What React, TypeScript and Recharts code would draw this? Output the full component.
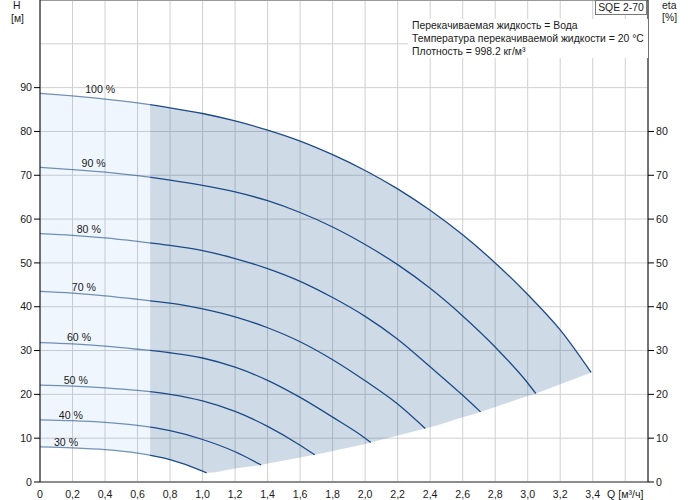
import React from 'react';
import {
    ComposedChart, Line, Area, XAxis, YAxis, CartesianGrid, ReferenceLine, ReferenceDot
} from 'recharts';

// pump curves at different speeds, Q [m3/h] vs H [m]
const q100 = [0, 0.2, 0.4, 0.6, 0.8, 1.0, 1.2, 1.4, 1.6, 1.8, 2.0, 2.2, 2.4, 2.6, 2.8, 3.0, 3.2, 3.39];
const h100 = [88.7, 88.1, 87.4, 86.5, 85.4, 84.1, 82.4, 80.3, 77.8, 74.7, 71.1, 66.9, 62.0, 56.4, 50.0, 42.8, 34.7, 25.0];
const q90 = [0, 0.2, 0.4, 0.6, 0.8, 1.0, 1.2, 1.4, 1.6, 1.8, 2.0, 2.2, 2.4, 2.6, 2.8, 3.0, 3.05];
const h90 = [71.8, 71.3, 70.7, 69.9, 68.9, 67.7, 66.2, 64.2, 61.5, 58.2, 54.2, 49.6, 44.2, 37.9, 30.8, 22.6, 20.2];
const q80 = [0, 0.2, 0.4, 0.6, 0.8, 1.0, 1.2, 1.4, 1.6, 1.8, 2.0, 2.2, 2.4, 2.6, 2.71];
const h80 = [56.7, 56.3, 55.7, 54.9, 54.0, 52.8, 51.0, 48.7, 45.8, 42.1, 37.8, 32.6, 26.3, 19.8, 16.0];
const q70 = [0, 0.2, 0.4, 0.6, 0.8, 1.0, 1.2, 1.4, 1.6, 1.8, 2.0, 2.2, 2.37];
const h70 = [43.5, 43.1, 42.5, 41.7, 40.8, 39.5, 37.7, 35.2, 32.0, 27.9, 23.1, 17.8, 12.2];
const q60 = [0, 0.2, 0.4, 0.6, 0.8, 1.0, 1.2, 1.4, 1.6, 1.8, 2.0, 2.035];
const h60 = [31.8, 31.5, 31.0, 30.3, 29.5, 28.3, 26.2, 23.2, 19.3, 14.8, 10.0, 9.0];
const q50 = [0, 0.2, 0.4, 0.6, 0.8, 1.0, 1.2, 1.4, 1.6, 1.69];
const h50 = [22.1, 21.9, 21.5, 20.9, 20.0, 18.5, 16.1, 12.7, 8.4, 6.2];
const q40 = [0, 0.2, 0.4, 0.6, 0.8, 1.0, 1.2, 1.36];
const h40 = [14.2, 14.0, 13.6, 12.9, 11.7, 9.7, 6.9, 3.9];
const q30 = [0, 0.2, 0.4, 0.6, 0.8, 1.0, 1.025];
const h30 = [8.0, 7.8, 7.4, 6.6, 5.1, 2.5, 2.1];

// light band (left of 0.678) and operating area (right of it)
const qLight = [0, 0.2, 0.4, 0.6, 0.678];
const loLight = [8.0, 7.8, 7.4, 6.6, 6.0];
const hiLight = [88.7, 88.1, 87.4, 86.5, 86.1];
const qDark = [0.678, 0.8, 1.0, 1.025, 1.2, 1.36, 1.4, 1.6, 1.69, 1.8, 2.0, 2.035, 2.2, 2.37, 2.4, 2.6, 2.71, 2.8, 3.0, 3.05, 3.2, 3.39];
const loDark = [6.0, 5.1, 2.5, 2.1, 3.1, 3.9, 4.2, 5.6, 6.2, 7.1, 8.7, 9.0, 10.6, 12.2, 12.5, 14.8, 16.0, 17.1, 19.6, 20.2, 22.3, 25.0];
const hiDark = [86.1, 85.4, 84.1, 83.9, 82.4, 80.7, 80.3, 77.8, 76.4, 74.7, 71.1, 70.4, 66.9, 62.8, 62.0, 56.4, 53.0, 50.0, 42.8, 40.8, 34.7, 25.0];

const speedLabels = ['100 %', '90 %', '80 %', '70 %', '60 %', '50 %', '40 %', '30 %'];
const labelQ = [0.37, 0.33, 0.30, 0.27, 0.24, 0.22, 0.19, 0.16];
const labelH = [89.7, 72.8, 57.7, 44.4, 33.0, 23.2, 15.3, 9.1];

const xTicks = [0, 0.2, 0.4, 0.6, 0.8, 1.0, 1.2, 1.4, 1.6, 1.8, 2.0, 2.2, 2.4, 2.6, 2.8, 3.0, 3.2, 3.4, 3.6];
const hTicks = [0, 10, 20, 30, 40, 50, 60, 70, 80, 90];
const etaTicks = [0, 10, 20, 30, 40, 50, 60, 70, 80];

const zip = (q: number[], h: number[]) => q.map((x, i) => ({ q: x, h: h[i] }));
const band = (q: number[], lo: number[], hi: number[]) => q.map((x, i) => ({ q: x, r: [lo[i], hi[i]] }));

const curves = [
    zip(q100, h100), zip(q90, h90), zip(q80, h80), zip(q70, h70),
    zip(q60, h60), zip(q50, h50), zip(q40, h40), zip(q30, h30),
];
const lightBand = band(qLight, loLight, hiLight);
const darkBand = band(qDark, loDark, hiDark);

const FONT = '"Liberation Sans", Arial, sans-serif';
const tickStyle = { fontSize: 10.6, fill: '#1a1a1a', fontFamily: FONT };

const fmtQ = (v: number) => {
    if (v === 3.6) return 'Q [м³/ч]';
    if (v === 0) return '0';
    return v.toFixed(1).replace('.', ',');
};

const txt: React.CSSProperties = {
    position: 'absolute', fontFamily: FONT, fontSize: 10.4, color: '#1a1a1a', whiteSpace: 'nowrap', lineHeight: '13px',
};

export default function App() {
    return (
        <div style={{ position: 'absolute', left: 0, top: 0, width: 691, height: 500, background: '#fff' }}>
            <ComposedChart width={691} height={500} margin={{ top: 0, right: 0, bottom: 0, left: 0 }}>
                <defs>
                    {/* curves are paler left of Q = 0.678 */}
                    <linearGradient id="curveStroke" gradientUnits="userSpaceOnUse" x1="0" y1="0" x2="691" y2="0">
                        <stop offset="0%" stopColor="#1b4a86" stopOpacity={0.6} />
                        <stop offset="21.7%" stopColor="#1b4a86" stopOpacity={0.6} />
                        <stop offset="21.8%" stopColor="#1b4a86" stopOpacity={1} />
                        <stop offset="100%" stopColor="#1b4a86" stopOpacity={1} />
                    </linearGradient>
                </defs>
                <XAxis
                    xAxisId="q" dataKey="q" type="number" domain={[0, 3.74]} ticks={xTicks}
                    allowDataOverflow height={18} tickFormatter={fmtQ} tick={tickStyle}
                    tickLine={false} stroke="#8c8c8c" axisLine={{ stroke: '#8c8c8c', strokeWidth: 2 }}
                    interval={0}
                />
                <YAxis
                    yAxisId="h" type="number" domain={[0, 110]} ticks={hTicks} width={40}
                    allowDataOverflow tick={tickStyle} stroke="#000" interval={0}
                />
                <YAxis
                    yAxisId="eta" orientation="right" type="number" domain={[0, 110]} ticks={etaTicks} width={43}
                    allowDataOverflow tick={tickStyle} stroke="#000" interval={0}
                />
                <CartesianGrid xAxisId="q" yAxisId="h" stroke="#d0d0d0" />
                <ReferenceLine xAxisId="q" yAxisId="h" y={100} stroke="#d0d0d0" />
                <ReferenceLine xAxisId="q" yAxisId="h" y={110} stroke="#9a9a9a" strokeWidth={2} />
                {/* translucent fills so the grid shows through */}
                <Area
                    xAxisId="q" yAxisId="h" data={lightBand} dataKey="r" type="monotone"
                    stroke="none" fill="#3c96f0" fillOpacity={0.082} isAnimationActive={false}
                />
                <Area
                    xAxisId="q" yAxisId="h" data={darkBand} dataKey="r" type="monotone"
                    stroke="none" fill="#1e508c" fillOpacity={0.21} isAnimationActive={false}
                />
                {curves.map((d, i) => (
                    <Line
                        key={speedLabels[i]} xAxisId="q" yAxisId="h" data={d} dataKey="h" type="monotone"
                        stroke="url(#curveStroke)" strokeWidth={1.3} dot={false} activeDot={false}
                        isAnimationActive={false}
                    />
                ))}
                {speedLabels.map((s, i) => (
                    <ReferenceDot
                        key={'l' + s} xAxisId="q" yAxisId="h" x={labelQ[i]} y={labelH[i]} r={0}
                        stroke="none" fill="none"
                        label={{ value: s, position: 'center', fontSize: 10.6, fill: '#1a1a1a', fontFamily: FONT }}
                    />
                ))}
            </ComposedChart>

            <div style={{ ...txt, left: 13, top: -1 }}>H</div>
            <div style={{ ...txt, left: 11, top: 12 }}>[м]</div>
            <div style={{ ...txt, left: 662, top: -1 }}>eta</div>
            <div style={{ ...txt, left: 662, top: 11 }}>[%]</div>

            <div style={{ position: 'absolute', left: 408, top: 19, width: 240, height: 39, background: '#fff' }} />
            <div style={{ ...txt, left: 412, top: 19 }}>Перекачиваемая жидкость = Вода</div>
            <div style={{ ...txt, left: 412, top: 32 }}>Температура перекачиваемой жидкости = 20 °C</div>
            <div style={{ ...txt, left: 412, top: 45 }}>Плотность = 998.2 кг/м³</div>

            <div style={{
                ...txt, left: 595, top: 0, width: 52, height: 15, background: '#fff',
                border: '1px solid #7a7a7a', boxSizing: 'border-box', textAlign: 'center', lineHeight: '14px',
            }}>SQE 2-70</div>
        </div>
    );
}
